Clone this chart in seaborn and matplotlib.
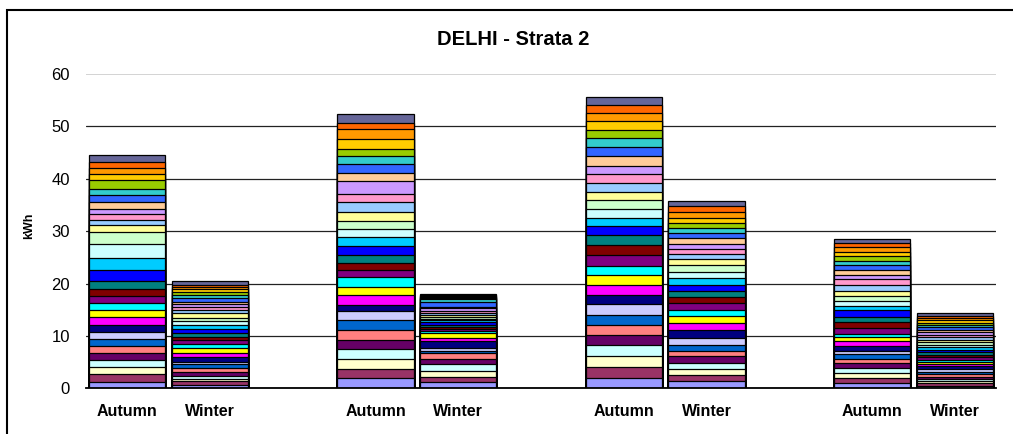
import numpy as np
import pandas as pd
import matplotlib
matplotlib.use("Agg")
import matplotlib.pyplot as plt
import matplotlib.patches as patches
import seaborn as sns

# ── data: kWh per series, listed bottom -> top for every bar ─────────
series_colors = ['#9999FF', '#993366', '#FFFFCC', '#CCFFFF', '#660066', '#FF8080',
                 '#0066CC', '#CCCCFF', '#000080', '#FF00FF', '#FFFF00', '#00FFFF',
                 '#800080', '#800000', '#008080', '#0000FF', '#00CCFF', '#CCFFFF',
                 '#CCFFCC', '#FFFF99', '#99CCFF', '#FF99CC', '#CC99FF', '#FFCC99',
                 '#3366FF', '#33CCCC', '#99CC00', '#FFCC00', '#FF9900', '#FF6600',
                 '#666699']

g1_autumn = [1.27, 1.46, 1.40, 1.27, 1.40, 1.27, 1.40, 1.27, 1.40, 1.40, 1.40, 1.33,
             1.33, 1.27, 1.52, 2.22, 2.35, 2.54, 2.41, 1.27, 1.02, 1.08, 0.95, 1.27,
             1.33, 1.27, 1.59, 1.27, 1.08, 1.14, 1.27]
g1_winter = [0.70, 0.70, 0.44, 0.44, 0.89, 0.63, 0.76, 0.51, 0.95, 0.70, 1.02, 0.63,
             0.76, 0.63, 0.76, 0.76, 0.83, 0.70, 0.57, 0.95, 0.63, 0.63, 0.44, 0.51,
             0.76, 0.57, 0.51, 0.57, 0.44, 0.38, 0.70]
g2_autumn = [1.90, 1.84, 1.84, 1.90, 1.78, 1.90, 1.90, 1.65, 1.27, 1.78, 1.65, 1.84,
             1.27, 1.33, 1.65, 1.59, 1.71, 1.52, 1.71, 1.71, 1.78, 1.65, 2.35, 1.59,
             1.78, 1.46, 1.40, 1.90, 1.78, 1.27, 1.65]
g2_winter = [1.27, 0.89, 1.14, 1.27, 1.08, 1.10, 0.44, 0.57, 1.20, 0.70, 0.95, 0.38,
             0.38, 0.32, 0.38, 0.51, 0.38, 0.32, 0.32, 0.32, 0.51, 0.38, 0.44, 0.19,
             1.02, 0.51, 0.32, 0.19, 0.13, 0.13, 0.19]
g3_autumn = [1.97, 2.16, 2.03, 2.03, 2.03, 1.90, 1.90, 2.03, 1.84, 1.84, 1.84, 1.84,
             2.03, 1.97, 1.84, 1.78, 1.52, 1.71, 1.71, 1.59, 1.65, 1.71, 1.52, 1.84,
             1.78, 1.71, 1.52, 1.71, 1.52, 1.52, 1.59]
g3_winter = [1.33, 1.14, 1.14, 1.14, 1.40, 1.02, 1.14, 1.33, 1.52, 1.33, 1.27, 1.27,
             1.27, 1.21, 1.14, 1.14, 1.21, 1.27, 1.21, 1.14, 1.02, 0.95, 1.02, 1.14,
             0.89, 0.89, 1.02, 1.02, 1.02, 1.14, 1.08]
g4_autumn = [1.08, 0.95, 0.95, 0.89, 0.89, 0.89, 0.83, 0.70, 0.89, 0.89, 0.76, 0.63,
             1.14, 1.08, 1.08, 1.21, 0.83, 0.95, 0.95, 1.08, 1.02, 1.08, 0.89, 0.89,
             0.95, 0.89, 0.83, 0.89, 0.89, 0.76, 0.83]
g4_winter = [0.50, 0.45, 0.40, 0.40, 0.50, 0.45, 0.50, 0.45, 0.55, 0.45, 0.40, 0.35,
             0.50, 0.55, 0.50, 0.45, 0.45, 0.45, 0.50, 0.45, 0.50, 0.45, 0.50, 0.45,
             0.50, 0.45, 0.45, 0.45, 0.45, 0.40, 0.50]

bar_ids = ['A1', 'W1', 'A2', 'W2', 'A3', 'W3', 'A4', 'W4']
bar_values = [g1_autumn, g1_winter, g2_autumn, g2_winter,
              g3_autumn, g3_winter, g4_autumn, g4_winter]

# slots on the category axis, empty ones make the gaps between groups
slot_order = ['A1', 'W1', 'gap1', 'A2', 'W2', 'gap2', 'A3', 'W3', 'gap3', 'A4', 'W4']
slot_labels = ['Autumn', 'Winter', '', 'Autumn', 'Winter', '',
               'Autumn', 'Winter', '', 'Autumn', 'Winter']

# long table + running totals per bar
rows = []
for bid, vals in zip(bar_ids, bar_values):
    for k, v in enumerate(vals):
        rows.append({'bar': bid, 'series': k, 'kwh': v})
df = pd.DataFrame(rows)
df['top'] = df.groupby('bar')['kwh'].cumsum()

# ── plot ──────────────────────────────────────────────────────────
sns.set_style('white')
plt.rcParams['font.family'] = ['Liberation Sans', 'DejaVu Sans']
plt.rcParams['text.color'] = 'black'
plt.rcParams['xtick.color'] = 'black'
plt.rcParams['ytick.color'] = 'black'
plt.rcParams['axes.labelcolor'] = 'black'

W, H = 1013, 434
fig = plt.figure(figsize=(W / 100, H / 100), dpi=100)
ax = fig.add_axes([86 / W, 1 - 388.3 / H, 910 / W, (388.3 - 74) / H])

# draw from the top series down, each smaller total covers the one before
for k in range(len(series_colors) - 1, -1, -1):
    sub = df[df['series'] == k]
    sns.barplot(data=sub, x='bar', y='top', order=slot_order,
                color=series_colors[k], saturation=1, width=0.92,
                edgecolor='black', linewidth=0.9, errorbar=None, ax=ax)

ax.set_xlim(-0.5, 10.5)
ax.set_ylim(0, 60)
ax.set_yticks(range(0, 61, 10))
ax.set_xticks(range(len(slot_order)))
ax.set_xticklabels(slot_labels, fontsize=11.5, fontweight='bold', color='black')
ax.set_xticks(np.arange(-0.5, 11, 1), minor=True)
ax.tick_params(axis='x', which='major', length=0, pad=11)
ax.tick_params(axis='x', which='minor', length=4, width=1.1, color='black')
ax.tick_params(axis='y', length=0, pad=11.5, labelsize=12, labelcolor='black')
ax.set_xlabel('')
ax.set_ylabel('')

ax.set_axisbelow(True)
ax.grid(axis='y', color='#222222', linewidth=0.9)
for line, t in zip(ax.get_ygridlines(), ax.get_yticks()):
    if t == 60:
        line.set_color('#cccccc')
        line.set_linewidth(1.2)

for side in ['left', 'right', 'top']:
    ax.spines[side].set_visible(False)
ax.spines['bottom'].set_color('black')
ax.spines['bottom'].set_linewidth(1.3)

fig.text(513 / W, 1 - 39.5 / H, 'DELHI - Strata 2', ha='center', va='center',
         fontsize=14.5, fontweight='bold', color='black')
fig.text(29 / W, 1 - 226 / H, 'kWh', ha='center', va='center', rotation=90,
         fontsize=9, fontweight='bold', color='black')

# outer chart frame (runs off the right and bottom edge)
frame = patches.Rectangle((7 / W, -0.1), 1.2, 1 - 10 / H + 0.1,
                          transform=fig.transFigure, fill=False,
                          edgecolor='black', linewidth=1.5)
fig.patches.append(frame)

fig.savefig('out.png', dpi=100)
